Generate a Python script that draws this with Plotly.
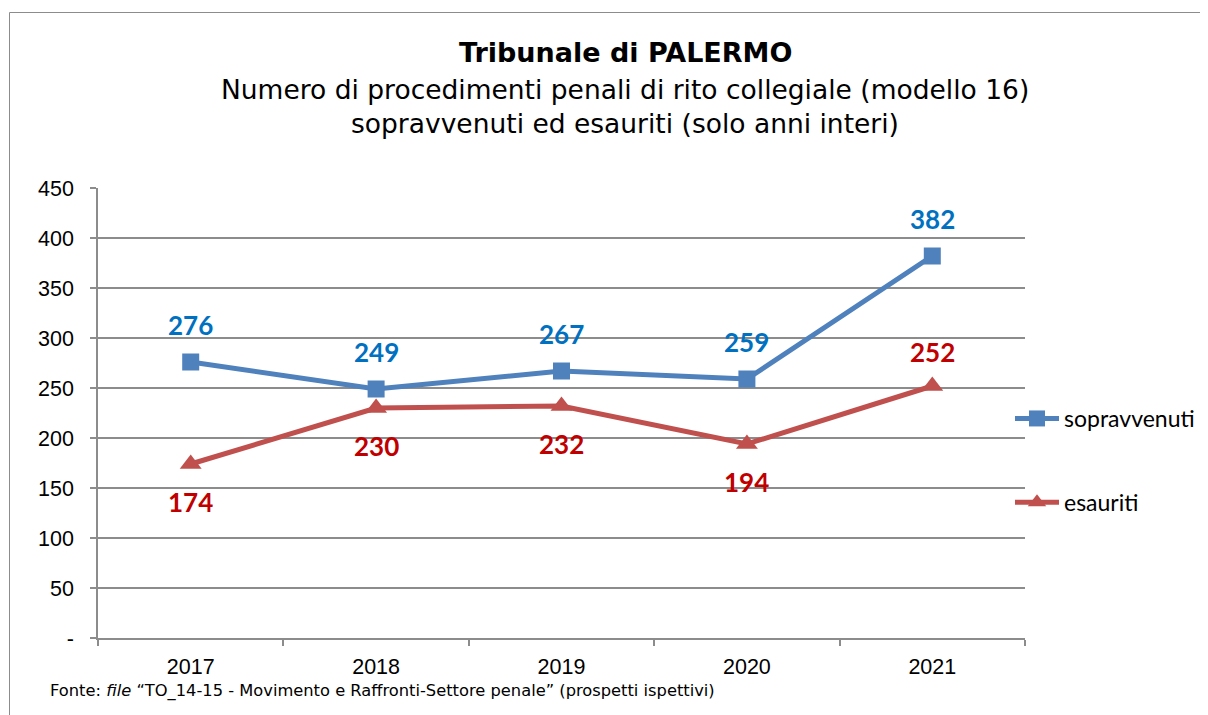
import plotly.graph_objects as go

years = ["2017", "2018", "2019", "2020", "2021"]
sopravvenuti = [276, 249, 267, 259, 382]
esauriti = [174, 230, 232, 194, 252]
y_tick_vals = [0, 50, 100, 150, 200, 250, 300, 350, 400, 450]
y_tick_text = ["-", "50", "100", "150", "200", "250", "300", "350", "400", "450"]
# label placement: +1 above, -1 below
esauriti_label_side = [-1, -1, -1, -1, 1]

OFF = 8  # page body margin
W, H = 1208 - OFF, 715 - OFF
L, R, T, B = 98 - OFF, 1025 - OFF, 188 - OFF, 638 - OFF
pw, ph = R - L, B - T

def px_x(x):
    return (x - OFF - L) / pw

def px_y(y):
    return (B - (y - OFF)) / ph

xpos = list(range(1, len(years) + 1))

BLUE = "#4F81BD"
RED = "#C0504D"
BLUE_TXT = "#0070C0"
RED_TXT = "#C00000"
GRID = "#8C8C8C"

fig = go.Figure()
fig.add_trace(go.Scatter(
    x=xpos, y=sopravvenuti, name="sopravvenuti", mode="lines+markers",
    line=dict(color=BLUE, width=5),
    marker=dict(symbol="square", size=17, color=BLUE),
    legendgroup="a", cliponaxis=False,
))
fig.add_trace(go.Scatter(
    x=xpos, y=esauriti, name="esauriti", mode="lines+markers",
    line=dict(color=RED, width=5),
    marker=dict(symbol="triangle-up", size=19, color=RED),
    legendgroup="b", cliponaxis=False,
))

annotations = []
for x, v in zip(xpos, sopravvenuti):
    annotations.append(dict(x=x, y=v, xref="x", yref="y", text=str(v), showarrow=False,
                            yshift=37, font=dict(family="Lato", size=26, color=BLUE_TXT, weight="bold")))
for x, v, s in zip(xpos, esauriti, esauriti_label_side):
    annotations.append(dict(x=x, y=v, xref="x", yref="y", text=str(v), showarrow=False,
                            yshift=34 if s > 0 else -38,
                            font=dict(family="Lato", size=26, color=RED_TXT, weight="bold")))

cx = px_x(625)
annotations.append(dict(x=cx, y=px_y(52), xref="paper", yref="paper", text="<b>Tribunale di PALERMO</b>",
                        showarrow=False, xanchor="center", yanchor="middle",
                        font=dict(family="DejaVu Sans", size=27, color="#000")))
annotations.append(dict(x=cx, y=px_y(90), xref="paper", yref="paper",
                        text="Numero di procedimenti penali di rito collegiale (modello 16)",
                        showarrow=False, xanchor="center", yanchor="middle",
                        font=dict(family="DejaVu Sans", size=26.5, color="#000")))
annotations.append(dict(x=cx, y=px_y(123), xref="paper", yref="paper",
                        text="sopravvenuti ed esauriti (solo anni interi)",
                        showarrow=False, xanchor="center", yanchor="middle",
                        font=dict(family="DejaVu Sans", size=26.5, color="#000")))
annotations.append(dict(x=px_x(48), y=px_y(691), xref="paper", yref="paper",
                        text="Fonte: <i>file</i> \u201cTO_14-15 - Movimento e Raffronti-Settore penale\u201d (prospetti ispettivi)",
                        showarrow=False, xanchor="left", yanchor="middle",
                        font=dict(family="DejaVu Sans", size=16.3, color="#000")))

shapes = [dict(type="rect", xref="paper", yref="paper",
               x0=px_x(9.5), x1=px_x(1400), y0=px_y(12.5), y1=px_y(900),
               line=dict(color="#8C8C8C", width=1), fillcolor="rgba(0,0,0,0)", layer="below")]

fig.update_layout(
    width=W, height=H,
    margin=dict(l=L, r=W - R, t=T, b=H - B, autoexpand=False),
    paper_bgcolor="white", plot_bgcolor="white",
    showlegend=True,
    legend=dict(x=px_x(1010), y=px_y(397), xanchor="left", yanchor="top",
                font=dict(family="Lato", size=23, color="#000"),
                tracegroupgap=51, bgcolor="rgba(0,0,0,0)", itemwidth=44),
    annotations=annotations,
    shapes=shapes,
)
fig.update_xaxes(
    range=[0.5, 5.5], tickvals=xpos, ticktext=years, ticks="",
    showgrid=False, showline=True, linecolor=GRID, linewidth=1.5,
    tickfont=dict(family="Liberation Sans", size=21.5, color="#000"),
    ticklabelstandoff=8,
    minor=dict(tickmode="linear", tick0=0.5, dtick=1, ticks="outside", ticklen=6,
               tickcolor=GRID, tickwidth=1.5, showgrid=False),
    zeroline=False, fixedrange=True,
)
fig.update_yaxes(
    range=[0, 450], tickvals=y_tick_vals, ticktext=y_tick_text,
    ticks="outside", ticklen=6, tickcolor=GRID, tickwidth=1.5,
    showgrid=True, gridcolor=GRID, gridwidth=1.5,
    showline=True, linecolor=GRID, linewidth=1.5,
    tickfont=dict(family="Liberation Sans", size=21.5, color="#000"),
    ticklabelstandoff=12,
    zeroline=False, fixedrange=True,
)

fig.write_html("out.html")
